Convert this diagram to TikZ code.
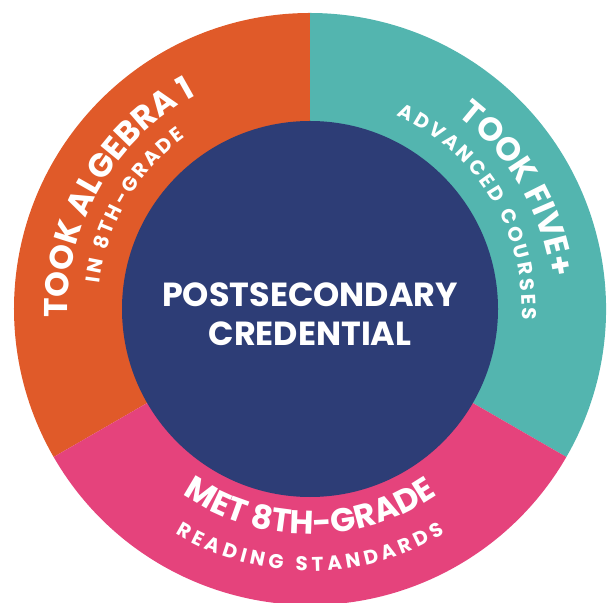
\documentclass[tikz,border=0pt]{standalone}
\usepackage{fontspec}
\usetikzlibrary{decorations.text,calc}
\newfontfamily\hfont{Poppins}

\definecolor{ringorange}{HTML}{E05A29}
\definecolor{ringteal}{HTML}{53B5AF}
\definecolor{ringpink}{HTML}{E5437C}
\definecolor{corenavy}{HTML}{2D3D76}

\newcommand{\bigtxt}{\hfont\bfseries\fontsize{33}{33}\selectfont}
\newcommand{\smalltxt}{\hfont\bfseries\fontsize{20}{20}\selectfont}

\tikzset{
  arclabel/.style={decorate, decoration={text along path, text color=white,
      text align=center, #1}},
  spreadlabel/.style={decorate, decoration={text along path, text color=white,
      text align=fit to path, #1}},
  coretext/.style={text=white, font=\hfont\bfseries\fontsize{33.5}{33.5}\selectfont,
      inner sep=0pt, anchor=base}
}

\begin{document}
\begin{tikzpicture}[x=1bp,y=1bp]
  \useasboundingbox (0,0) rectangle (609,603);
  \clip (0,0) rectangle (609,603);
  \coordinate (c) at (310,294);

  % three ring sectors
  \fill[ringorange] (c) -- ($(c)+(90:296bp)$) arc[start angle=90, end angle=210, radius=296bp] -- cycle;
  \fill[ringteal]   (c) -- ($(c)+(-30:296bp)$) arc[start angle=-30, end angle=90, radius=296bp] -- cycle;
  \fill[ringpink]   (c) -- ($(c)+(210:296bp)$) arc[start angle=210, end angle=330, radius=296bp] -- cycle;

  % core disc
  \fill[corenavy] (c) circle[radius=188bp];

  % core label
  \node[coretext] (line1) at (310,296) {POSTSECONDARY};
  \node[coretext] (line2) at (310,257) {CREDENTIAL};

  % left sector labels (clockwise, tops outward)
  \path[arclabel={text={|\bigtxt|TOOK ALGEBRA 1}}]
    ($(c)+(184:242bp)$) arc[start angle=184, end angle=116, radius=242bp];
  \path[spreadlabel={text={|\smalltxt|IN 8TH-GRADE}}]
    ($(c)+(173:212bp)$) arc[start angle=173, end angle=126, radius=212bp];

  % right sector labels
  \path[arclabel={text={|\bigtxt|TOOK FIVE+}}]
    ($(c)+(55:243bp)$) arc[start angle=55, end angle=5, radius=243bp];
  \path[spreadlabel={text={|\smalltxt|ADVANCED COURSES}}]
    ($(c)+(66:212bp)$) arc[start angle=66, end angle=-3, radius=212bp];

  % bottom sector labels (counter-clockwise, tops inward)
  \path[arclabel={text={|\bigtxt|MET 8TH-GRADE}}]
    ($(c)+(234:225bp)$) arc[start angle=234, end angle=306, radius=225bp];
  \path[spreadlabel={text={|\smalltxt|READING STANDARDS}}]
    ($(c)+(239:262bp)$) arc[start angle=239, end angle=301, radius=262bp];
\end{tikzpicture}
\end{document}
